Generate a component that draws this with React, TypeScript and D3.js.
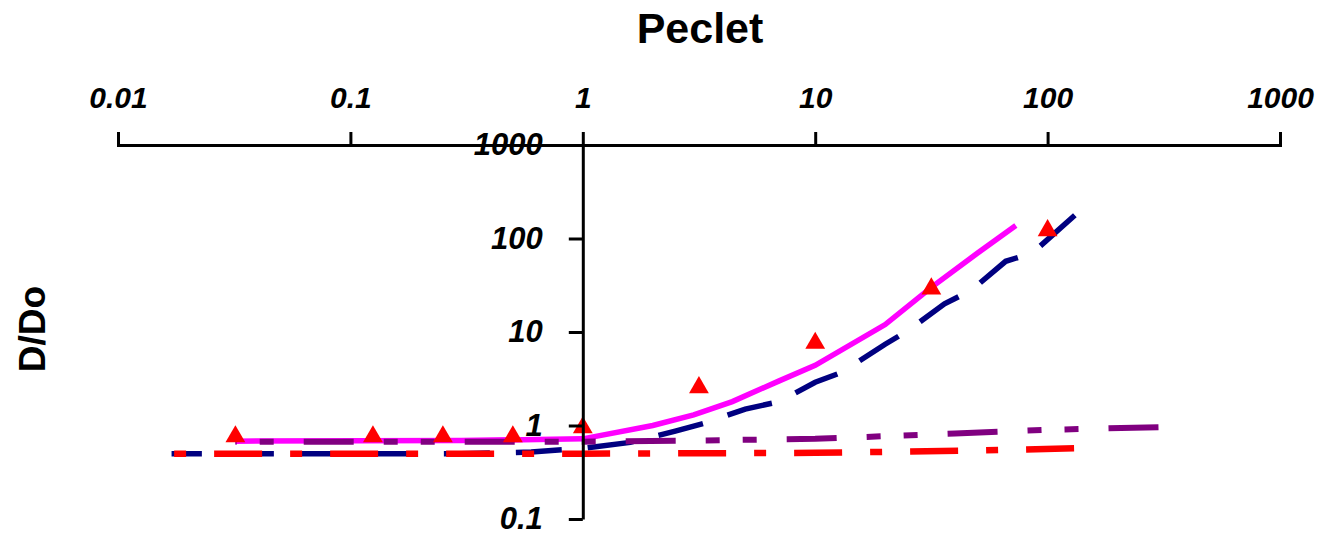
import React from 'react';
import * as d3 from 'd3';

// tick values
const xTicks = [0.01, 0.1, 1, 10, 100, 1000];
const yTicks = [0.1, 1, 10, 100, 1000];

// measured points (triangles)
const peData = [0.032, 0.125, 0.25, 0.5, 1, 3.16, 10, 31.6, 100];
const dData = [0.76, 0.76, 0.76, 0.76, 0.95, 2.55, 7.6, 29, 122];

// magenta solid fit
const peFit = [0.032, 0.3, 1, 2, 3, 4.4, 7, 10, 20, 31.6, 50, 73];
const dFit = [0.68, 0.69, 0.72, 1.0, 1.3, 1.8, 3.0, 4.4, 12, 30, 70, 138];

// navy dashed
const peNavy = [0.017, 0.3, 0.6, 1, 1.6, 2.5, 3.3, 5, 7, 10, 13, 20, 25, 36, 47, 66, 86, 131];
const dNavy = [0.5, 0.5, 0.52, 0.57, 0.66, 0.87, 1.05, 1.5, 1.8, 2.9, 3.7, 7.4, 10.3, 20, 28, 57, 70, 177];

// red dash-dot
const peRed = [0.017, 1, 10, 50, 130];
const dRed = [0.5, 0.5, 0.51, 0.54, 0.57];

// purple dash-dot-dot
const pePurple = [0.032, 1, 3, 10, 40, 100, 300];
const dPurple = [0.67, 0.67, 0.69, 0.72, 0.82, 0.9, 0.96];

const W = 1320;
const H = 538;
const font = '"Liberation Sans", Arial, sans-serif';

const x = d3.scaleLog().domain([0.01, 1000]).range([118, 1280]);
const y = d3.scaleLog().domain([0.1, 1000]).range([519, 145]);

const fmt = (v: number) => (v < 1 ? String(v) : d3.format('d')(v));

export default function App() {
  const xRef = React.useRef<SVGGElement>(null);
  const yRef = React.useRef<SVGGElement>(null);

  React.useEffect(() => {
    const gx = d3.select(xRef.current);
    gx.selectAll('*').remove();
    gx.call(
      d3.axisTop(x).tickValues(xTicks).tickFormat(fmt as any)
        .tickSizeInner(13).tickSizeOuter(13).tickPadding(24)
    );
    const gy = d3.select(yRef.current);
    gy.selectAll('*').remove();
    gy.call(
      d3.axisLeft(y).tickValues(yTicks).tickFormat(fmt as any)
        .tickSizeInner(14).tickSizeOuter(0).tickPadding(26)
    );
    [gx, gy].forEach(g => {
      g.select('.domain').attr('stroke', '#000').attr('stroke-width', 3);
      g.selectAll('.tick line').attr('stroke', '#000').attr('stroke-width', 3);
      g.selectAll('.tick text')
        .attr('fill', '#000')
        .style('font-family', font)
        .style('font-weight', 'bold')
        .style('font-style', 'italic');
    });
    gx.selectAll('.tick text').style('font-size', '30px');
    gy.selectAll('.tick text').style('font-size', '31px');
  }, []);

  const line = d3.line<[number, number]>().x(d => x(d[0])).y(d => y(d[1]));
  const pts = (a: number[], b: number[]) => a.map((v, i) => [v, b[i]] as [number, number]);
  // dashed lines drawn from the right end so the pattern ends on a full dash there
  const rpts = (a: number[], b: number[]) => pts(a, b).reverse();
  const tri = d3.symbol().type(d3.symbolTriangle).size(170)();

  return (
    <svg width={W} height={H} style={{ position: 'absolute', left: 0, top: 0, background: '#fff' }}>
      <text x={700} y={43} textAnchor="middle" fontFamily={font} fontWeight="bold" fontSize={43}>
        Peclet
      </text>
      <text transform="translate(45,329) rotate(-90)" textAnchor="middle" fontFamily={font} fontWeight="bold" fontSize={37}>
        D/Do
      </text>

      <path d={line(rpts(peNavy, dNavy)) || ''} fill="none" stroke="#000080" strokeWidth={5.5} strokeDasharray="46,26" />
      <path d={line(rpts(peRed, dRed)) || ''} fill="none" stroke="#ff0000" strokeWidth={6.5} strokeDasharray="48,28,12,28" />
      <path d={line(pts(peFit, dFit)) || ''} fill="none" stroke="#ff00ff" strokeWidth={5.5} />
      <path d={line(rpts(pePurple, dPurple)) || ''} fill="none" stroke="#800080" strokeWidth={6} strokeDasharray="50,30,14,23,14,30" />

      {peData.map((p, i) => (
        <path key={i} d={tri || ''} transform={`translate(${x(p)},${y(dData[i])})`} fill="#ff0000" />
      ))}

      <g ref={xRef} transform={`translate(0,${y(1000)})`} />
      <g ref={yRef} transform={`translate(${x(1)},0)`} />
    </svg>
  );
}
